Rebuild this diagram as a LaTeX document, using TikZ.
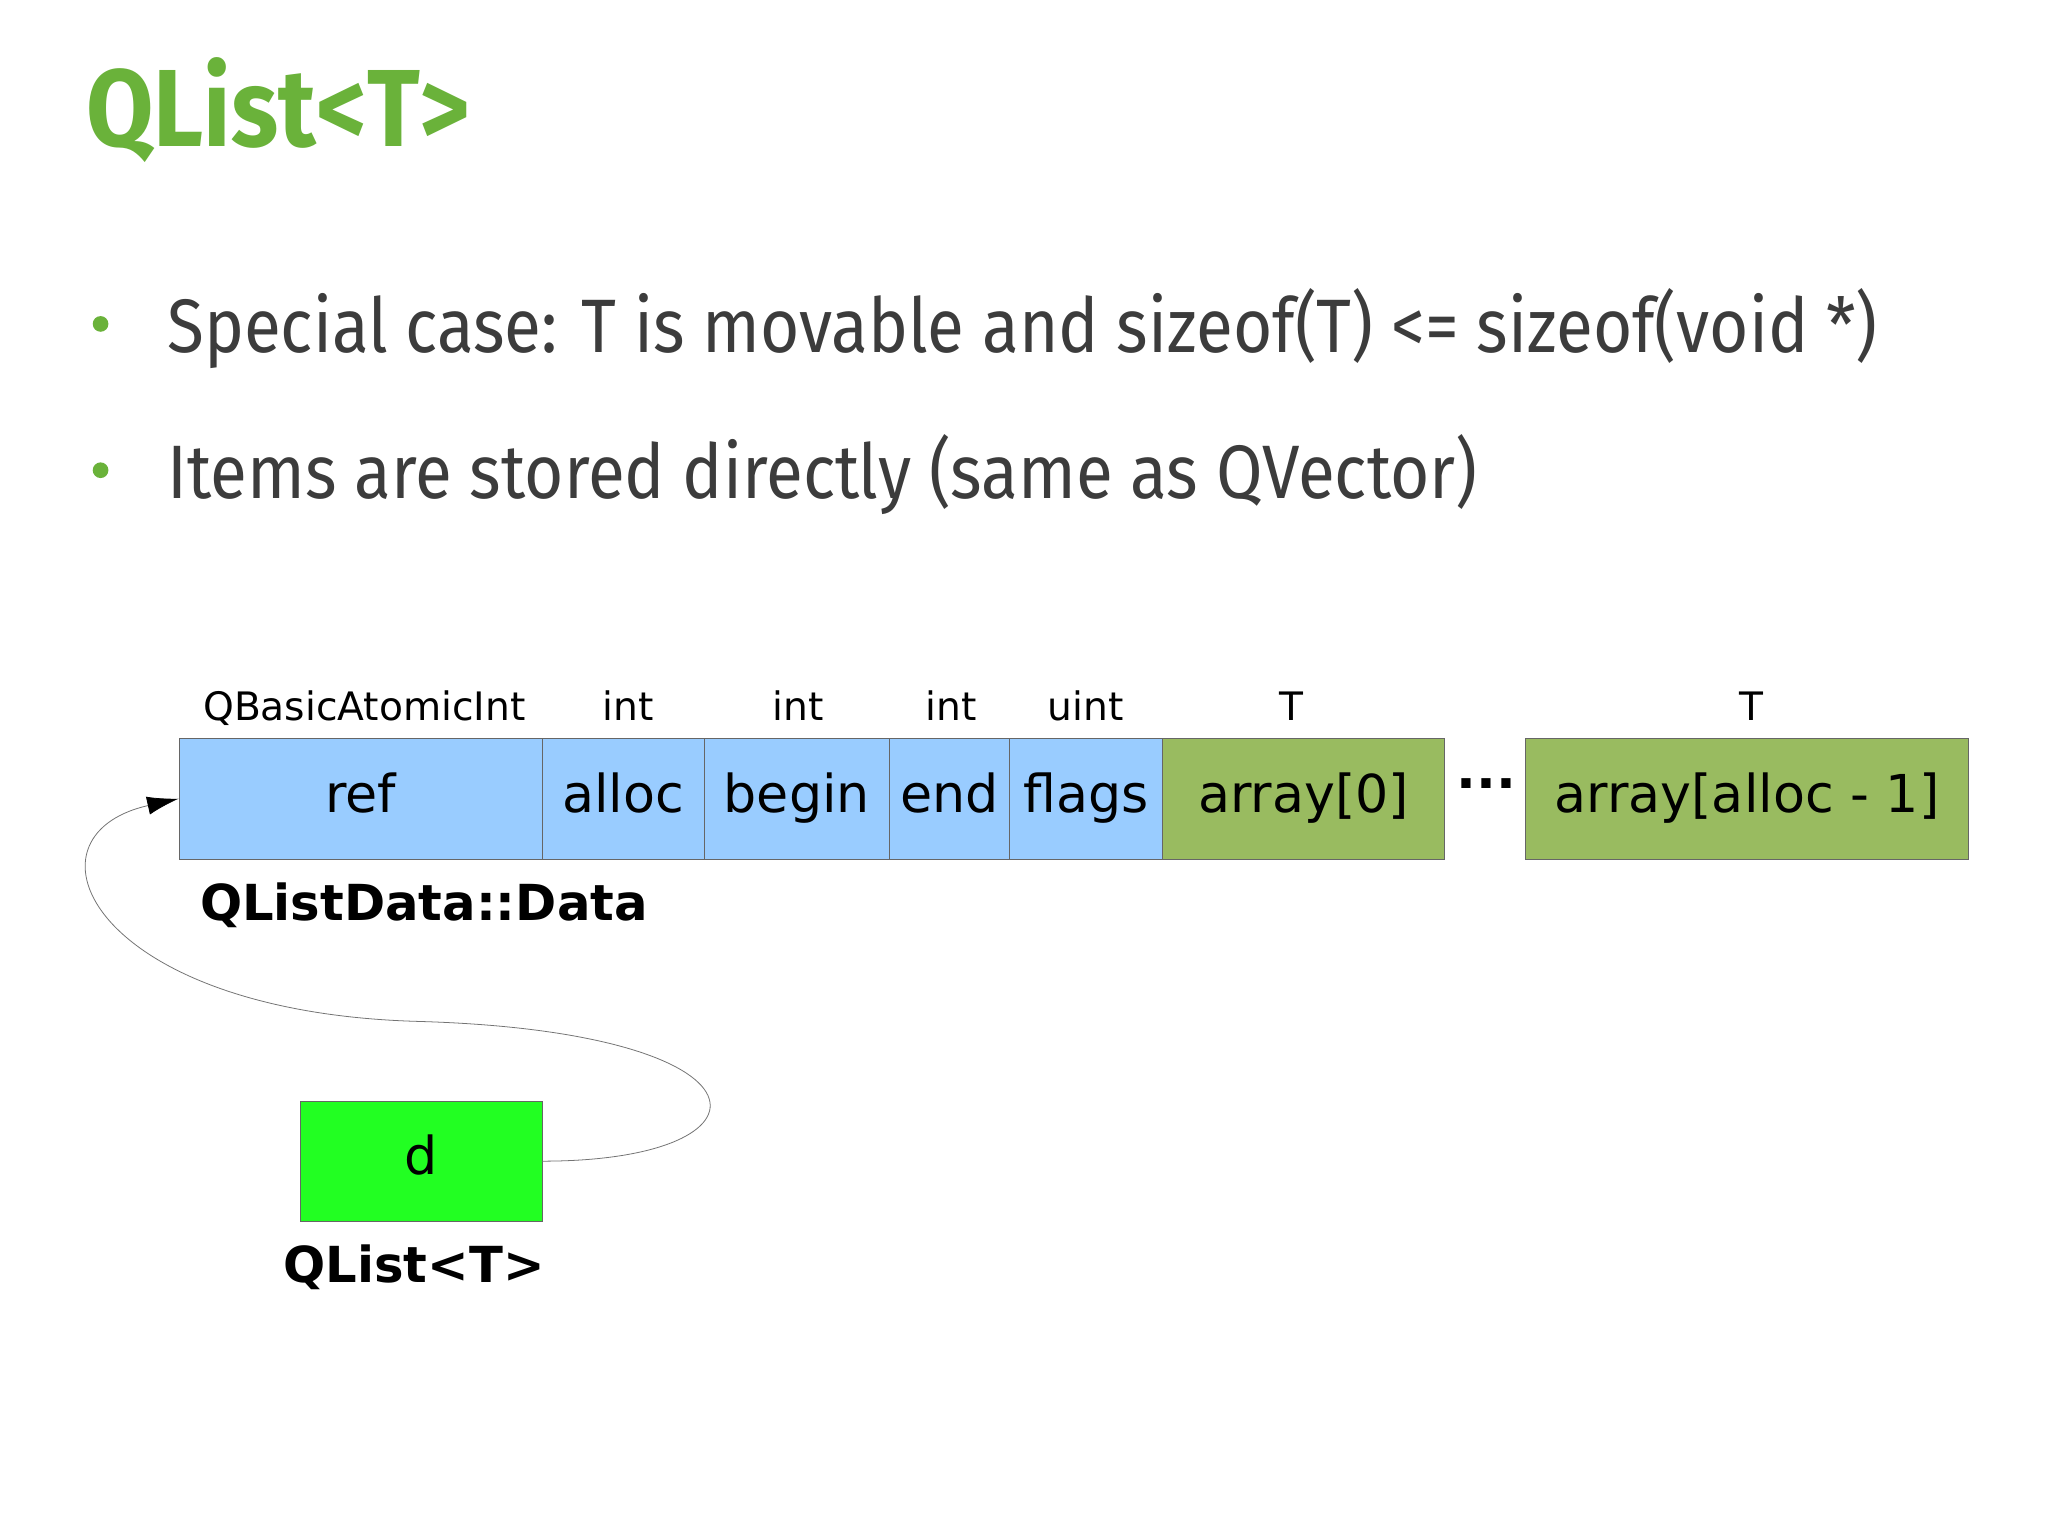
\documentclass[tikz,border=0pt]{standalone}
\usepackage{fontspec}
\setmainfont{DejaVu Sans}
\newfontfamily\slidefont[FakeStretch=0.89]{Fira Sans}
\usetikzlibrary{arrows.meta}
\definecolor{qtgreen}{RGB}{106,178,58}
\definecolor{cellblue}{RGB}{153,204,255}
\definecolor{cellgreen}{RGB}{153,187,96}
\definecolor{dgreen}{RGB}{34,255,34}
\definecolor{slidetext}{RGB}{60,60,60}
\tikzset{
  cell/.style={draw=black!60, line width=0.6pt, fill=cellblue, minimum height=93pt, inner sep=0pt, text height=30pt, text depth=9pt, font=\fontsize{40}{48}\selectfont},
  arr/.style={cell, fill=cellgreen},
  typelbl/.style={font=\fontsize{30}{36}\selectfont, anchor=base},
  bullet/.style={circle, fill=qtgreen, inner sep=0pt, minimum size=12pt}
}
\begin{document}
\begin{tikzpicture}[x=1pt, y=-1pt]
  \useasboundingbox (0,0) rectangle (1568,1176);
  \fill[white] (0,0) rectangle (1568,1176);

  % title and bullets
  \node[anchor=base west, inner sep=0pt, text=qtgreen, font=\slidefont\bfseries\fontsize{84}{90}\selectfont] (title) at (66,112) {QList<T>};
  \node[bullet] (b1) at (77,248) {};
  \node[anchor=base west, inner sep=0pt, text=slidetext, font=\slidefont\fontsize{58}{66}\selectfont] (t1) at (128,270) {Special case: T is movable and sizeof(T) <= sizeof(void *)};
  \node[bullet] (b2) at (77,360) {};
  \node[anchor=base west, inner sep=0pt, text=slidetext, font=\slidefont\fontsize{58}{66}\selectfont] (t2) at (128,382) {Items are stored directly (same as QVector)};

  % data block
  \node[cell, minimum width=278pt] (ref)   at (276,611.5) {ref};
  \node[cell, minimum width=124pt] (alloc) at (477,611.5) {alloc};
  \node[cell, minimum width=142pt] (begin) at (610,611.5) {begin};
  \node[cell, minimum width=92pt]  (end)   at (727,611.5) {end};
  \node[cell, minimum width=117pt] (flags) at (831.5,611.5) {flags};
  \node[arr, minimum width=216pt]  (a0)    at (998,611.5) {array[0]};
  \node[arr, minimum width=339pt]  (an)    at (1337.5,611.5) {array[alloc - 1]};
  \node[font=\bfseries\fontsize{40}{48}\selectfont] (dots) at (1138,600) {...};

  \node[typelbl] (tref)   at (279,552) {QBasicAtomicInt};
  \node[typelbl] (talloc) at (481,552) {int};
  \node[typelbl] (tbegin) at (611,552) {int};
  \node[typelbl] (tend)   at (728,552) {int};
  \node[typelbl] (tflags) at (831,552) {uint};
  \node[typelbl] (ta0)    at (989,552) {T};
  \node[typelbl] (tan)    at (1341,552) {T};

  \node[anchor=base west, inner sep=0pt, font=\bfseries\fontsize{38}{44}\selectfont] (dname) at (153,705) {QListData::Data};

  % the list itself
  \node[cell, fill=dgreen, minimum width=185pt, minimum height=92pt] (d) at (322.5,889) {d};
  \node[anchor=base, inner sep=0pt, font=\bfseries\fontsize{38}{44}\selectfont] (lname) at (317,982) {QList<T>};

  \coordinate (bend) at (320,782);
  \draw[black!55, line width=0.6pt, -{Latex[length=24pt, width=14pt, black]}]
    (d.east) .. controls (600,889) and (600,790) .. (bend)
    .. controls (70,775) and (10,640) .. (ref.west);
\end{tikzpicture}
\end{document}
